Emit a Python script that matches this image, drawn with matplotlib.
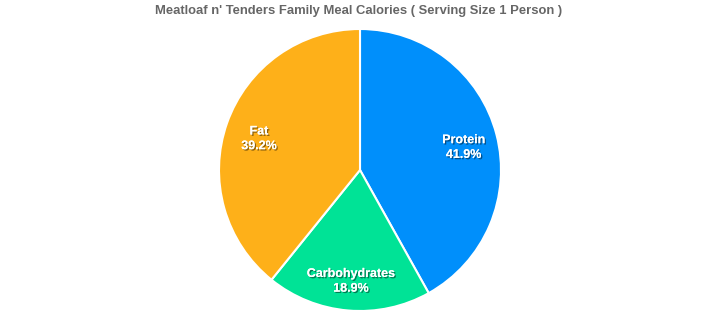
import matplotlib
matplotlib.use("Agg")
import matplotlib.pyplot as plt
import matplotlib.patheffects as pe
import numpy as np

categories = ["Protein", "Carbohydrates", "Fat"]
values = [41.9, 18.9, 39.2]
colors = ["#008FFB", "#00E396", "#FEB019"]
title = "Meatloaf n' Tenders Family Meal Calories ( Serving Size 1 Person )"

plt.rcParams['font.family'] = ['Liberation Sans', 'DejaVu Sans']

W, H = 718, 323
fig = plt.figure(figsize=(W / 100, H / 100), dpi=100)
cx, cy, r = 360, 170, 141
ax = fig.add_axes([(cx - r) / W, (H - cy - r) / H, 2 * r / W, 2 * r / H])

wedges, texts = ax.pie(values, colors=colors, startangle=90, counterclock=False,
                       labels=None, radius=1.0,
                       wedgeprops=dict(edgecolor="white", linewidth=1.5))
ax.set_xlim(-1, 1)
ax.set_ylim(-1, 1)
ax.set_aspect('equal')
ax.axis('off')

start = 90.0
total = sum(values)
dy = -4.5 / r
for name, v in zip(categories, values):
    span = v / total * 360
    mid = np.deg2rad(start - span / 2)
    start -= span
    d = 0.76
    ax.text(d * np.cos(mid), d * np.sin(mid) + dy, f"{name}\n{v}%", ha='center', va='center',
            color='white', fontsize=9, fontweight='bold', linespacing=1.3,
            path_effects=[pe.withSimplePatchShadow(offset=(1, -1), shadow_rgbFace='black', alpha=0.45),
                          pe.Normal()])

fig.text(0.5, 1 - 11 / H, title, ha='center', va='center', fontsize=9.4,
         fontweight='bold', color='#666666')

fig.savefig("out.png", dpi=100)
